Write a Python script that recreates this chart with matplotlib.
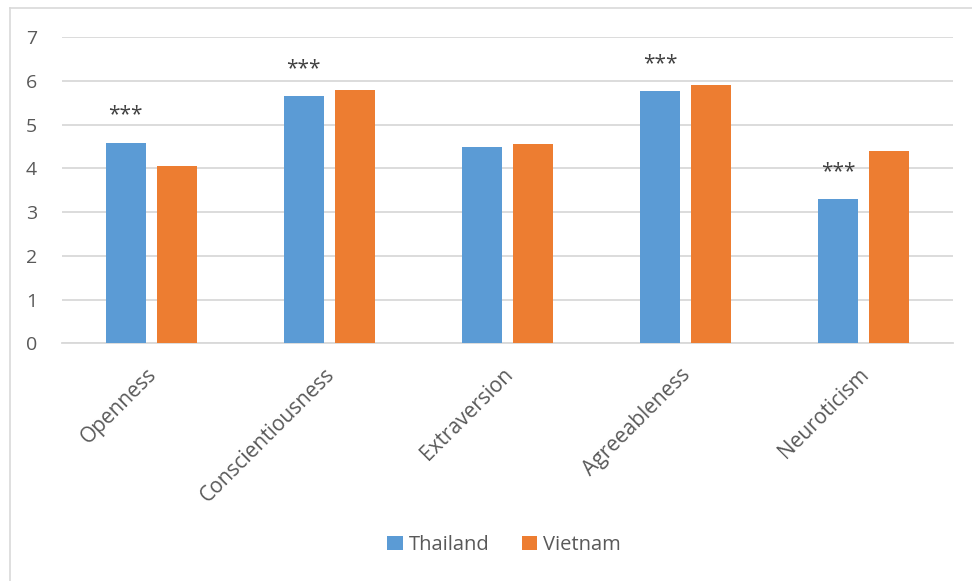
import matplotlib
matplotlib.use("Agg")
import matplotlib.pyplot as plt
import numpy as np
from matplotlib.lines import Line2D

categories = ["Openness", "Conscientiousness", "Extraversion", "Agreeableness", "Neuroticism"]
thailand = [4.59, 5.65, 4.48, 5.77, 3.30]
vietnam = [4.06, 5.80, 4.55, 5.90, 4.40]
significance = ["***", "***", "", "***", "***"]
yticks = [0, 1, 2, 3, 4, 5, 6, 7]

plt.rcParams['font.family'] = ['Open Sans', 'DejaVu Sans']
txt = '#595959'
grid = '#d9d9d9'

fig = plt.figure(figsize=(9.72, 5.81), dpi=100)
ax = fig.add_axes([62/972, 1-343.3/581, (953-62)/972, (343.3-37.3)/581])

x = np.arange(len(categories))
w = 0.225
off = 0.143
b1 = ax.bar(x - off, thailand, w, color='#5B9BD5', label='Thailand', zorder=3)
b2 = ax.bar(x + off, vietnam, w, color='#ED7D31', label='Vietnam', zorder=3)

for xi, v, s in zip(x, thailand, significance):
    if s:
        ax.annotate(s, (xi - off, v), xytext=(0, 20), textcoords='offset points',
                    ha='center', va='center', fontsize=15, color='#404040')

ax.set_xlim(-0.5, 4.5)
ax.set_ylim(0, 7)
ax.set_yticks(yticks)
ax.set_yticklabels([str(t) for t in yticks], fontsize=14, color=txt)
# tick marks are invisible; nudge label anchors slightly left to match reference
ax.set_xticks(x - 0.03)
ax.set_xticklabels(categories, rotation=45, ha='right', rotation_mode='anchor',
                   fontsize=15, color=txt)
ax.tick_params(axis='both', length=0)
ax.tick_params(axis='y', pad=18)
ax.tick_params(axis='x', pad=15)
for sp in ['top', 'right', 'left']:
    ax.spines[sp].set_visible(False)
ax.spines['bottom'].set_color(grid)
ax.spines['bottom'].set_linewidth(1.3)
ax.yaxis.grid(True, color=grid, linewidth=1.3, zorder=0)
ax.set_axisbelow(True)

leg = fig.legend(handles=[b1, b2], labels=['Thailand', 'Vietnam'], loc='center',
                 bbox_to_anchor=(504/972, 1-545/581), ncol=2, frameon=False,
                 fontsize=14.5, handlelength=0.75, handleheight=0.75,
                 handletextpad=0.3, columnspacing=1.6)
for t in leg.get_texts():
    t.set_color(txt)

# outer chart border (left and top visible)
fig.add_artist(Line2D([10/972, 10/972], [0, 1-8/581], transform=fig.transFigure,
                      color='#d9d9d9', linewidth=1.2))
fig.add_artist(Line2D([10/972, 1], [1-8/581, 1-8/581], transform=fig.transFigure,
                      color='#d9d9d9', linewidth=1.2))

fig.savefig('out.png', dpi=100)
